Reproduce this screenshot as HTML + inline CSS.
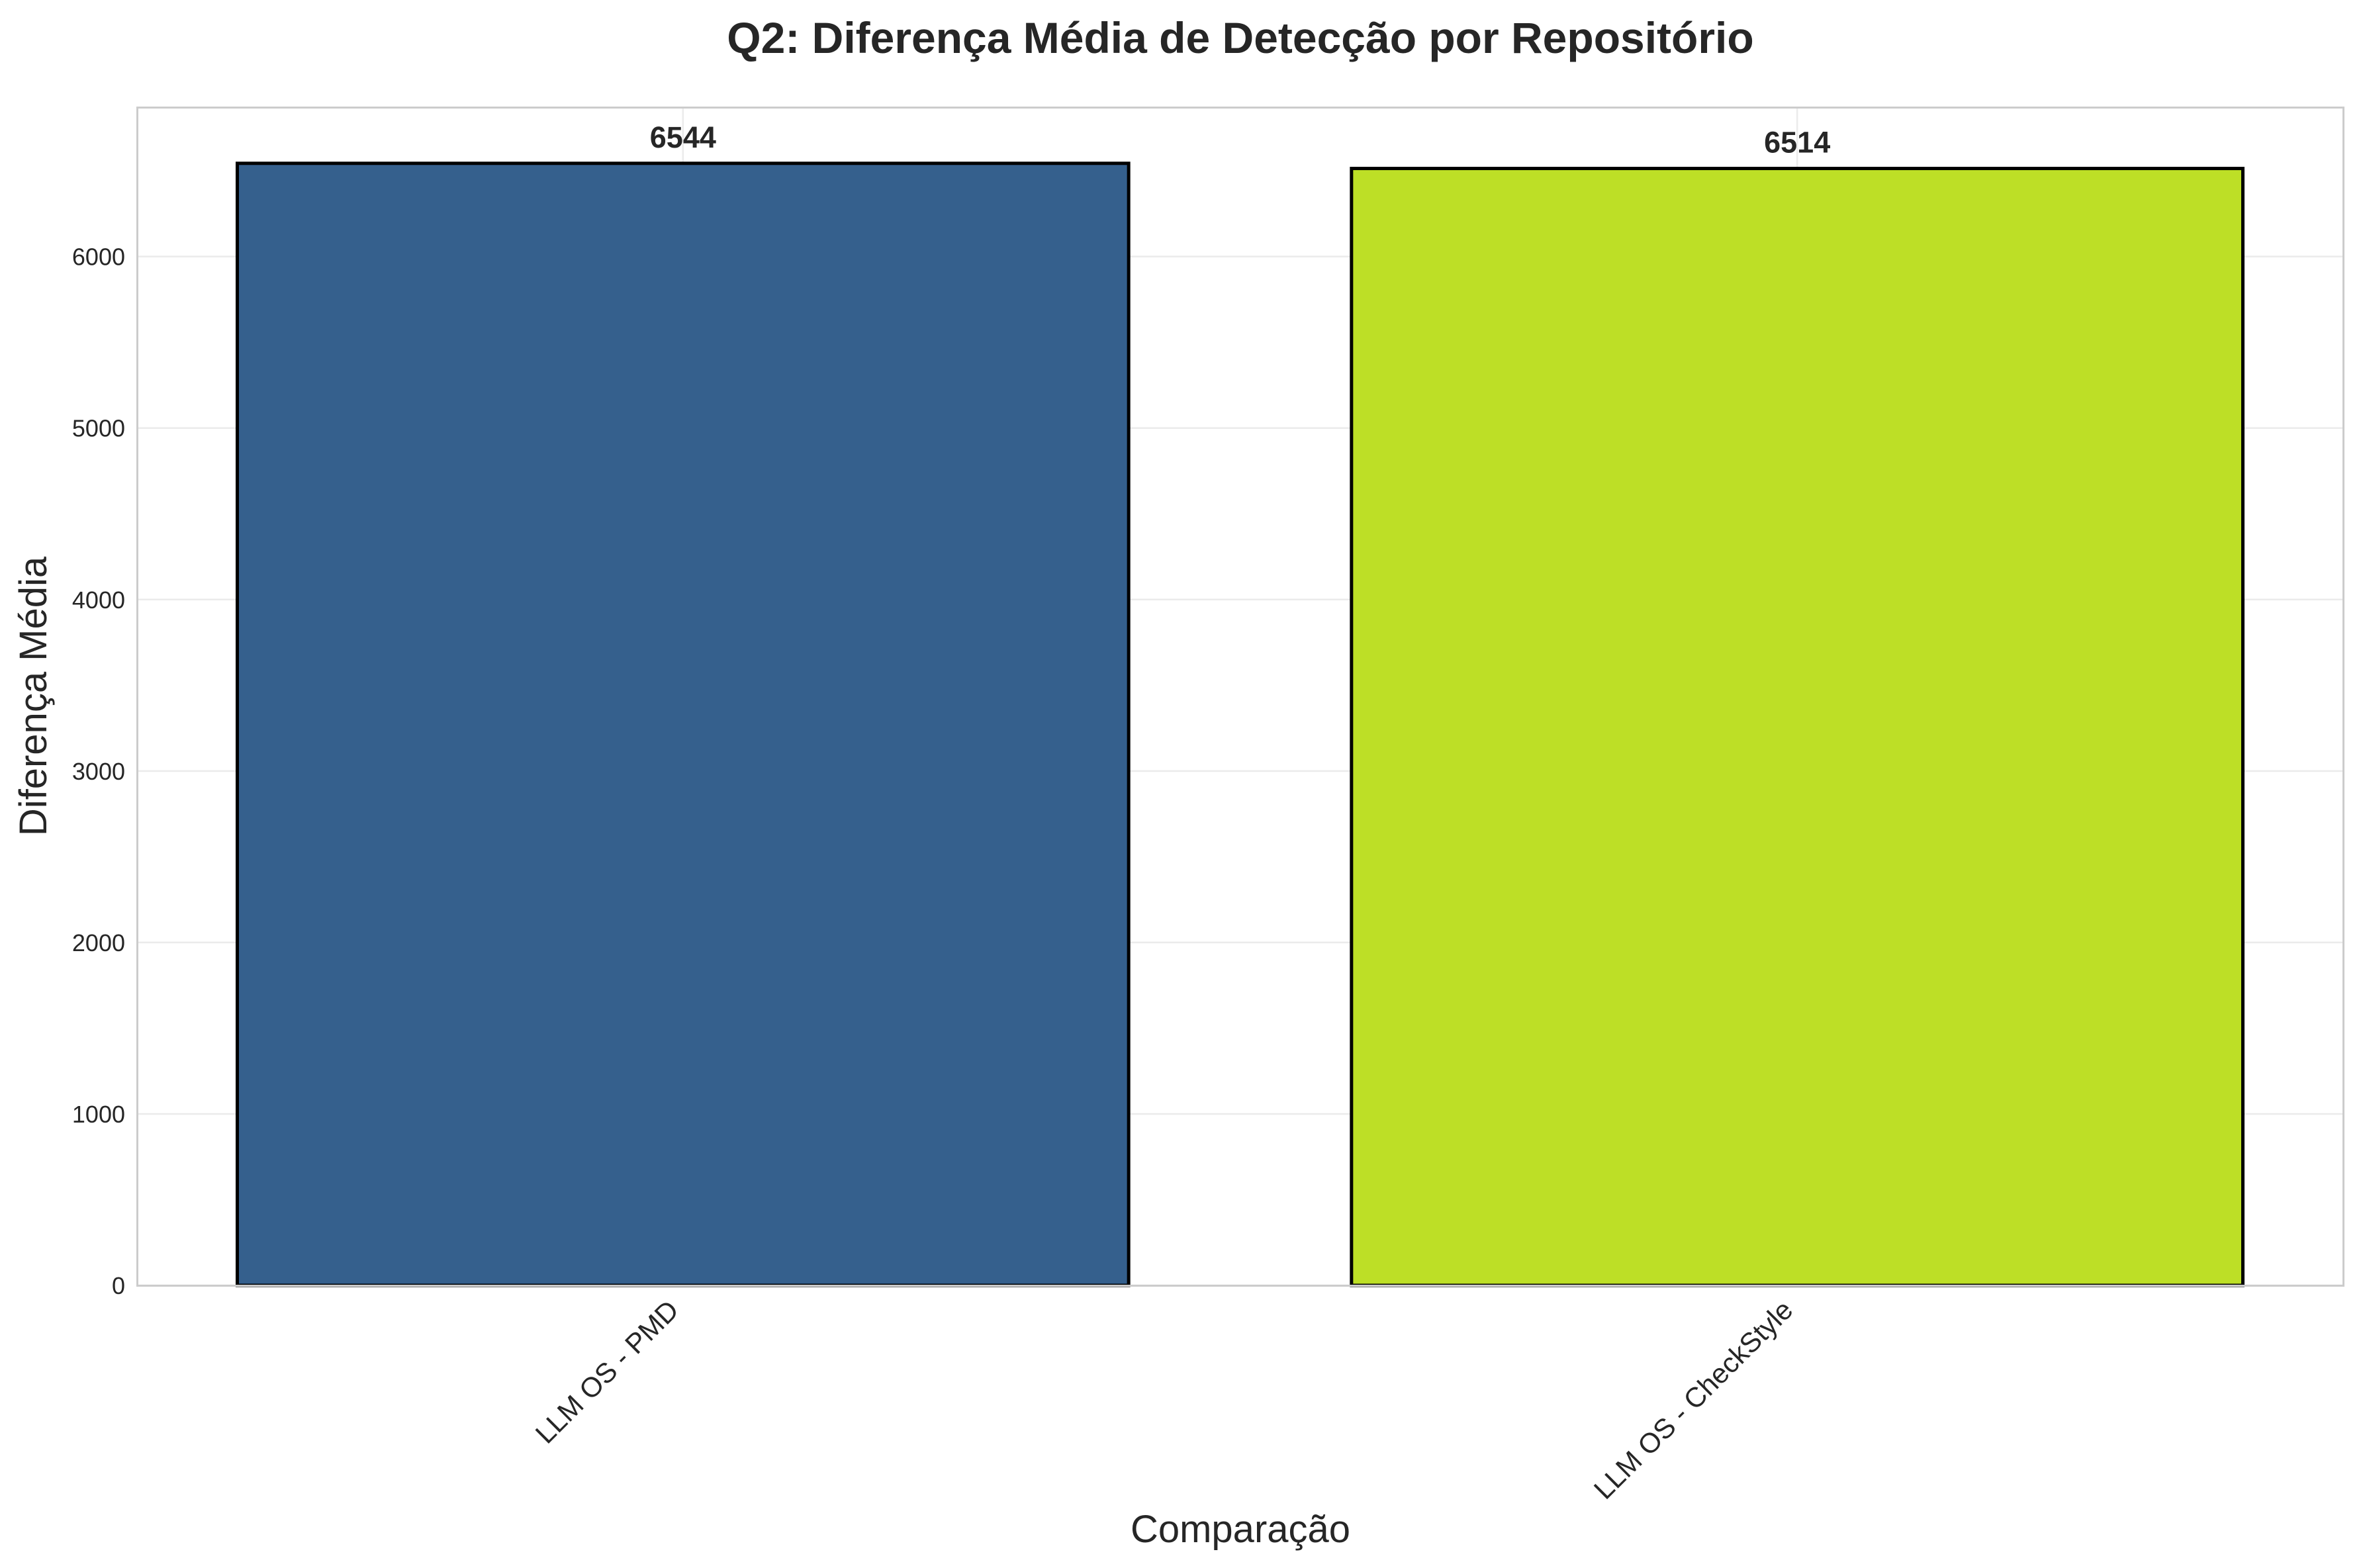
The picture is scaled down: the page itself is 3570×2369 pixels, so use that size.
<!DOCTYPE html>
<html><head><meta charset="utf-8">
<style>
html,body{margin:0;padding:0;background:#fff;}
svg{display:block;font-family:"Liberation Sans",Arial,sans-serif;}
</style></head>
<body>
<svg id="chart" width="3570" height="2369" viewBox="0 0 3570 2369" xmlns="http://www.w3.org/2000/svg">
<rect x="0" y="0" width="3570" height="2369" fill="#ffffff"/>
<text x="1874" y="80" text-anchor="middle" font-size="66" font-weight="bold" fill="#262626">Q2: Diferença Média de Detecção por Repositório</text>
<g id="grid"></g>
<g id="bars"></g>
<g id="labels"></g>
<rect x="207.5" y="162.5" width="3333" height="1780" fill="none" stroke="#cccccc" stroke-width="3"/>
<text transform="translate(70,1052) rotate(-90)" text-anchor="middle" font-size="58" fill="#262626">Diferença Média</text>
<text x="1874" y="2330" text-anchor="middle" font-size="58" fill="#262626">Comparação</text>
</svg>
<script>
const categories = ["LLM OS - PMD", "LLM OS - CheckStyle"];
const values = [6544, 6514];
const valueLabels = ["6544", "6514"];
const yTicks = [0, 1000, 2000, 3000, 4000, 5000, 6000];
const colors = ["#35608d", "#bddf26"];

const NS = "http://www.w3.org/2000/svg";
const L = 207, R = 3540, T = 162, B = 1942;
const yMax = Math.max(...values) * 1.05;
const xMin = -0.49, xMax = categories.length - 1 + 0.49;
function xs(v){ return L + (v - xMin) / (xMax - xMin) * (R - L); }
function ys(v){ return B - v / yMax * (B - T); }
function mk(tag, attrs, parent){ const e = document.createElementNS(NS, tag); for (const k in attrs) e.setAttribute(k, attrs[k]); parent.appendChild(e); return e; }
const grid = document.getElementById('grid'), bars = document.getElementById('bars'), labels = document.getElementById('labels');

yTicks.forEach(t => {
  const y = ys(t);
  const gl = mk('line', {x1: L, x2: R, y1: y, y2: y, stroke: '#ebebeb', 'stroke-width': 2.5}, grid);
  
  
  const tl = mk('text', {x: L - 18, y: y + 13, 'text-anchor': 'end', 'font-size': 36, fill: '#262626'}, labels);
  tl.textContent = t;
  
  
});
categories.forEach((c, i) => {
  const x = xs(i);
  const gl = mk('line', {x1: x, x2: x, y1: T, y2: B, stroke: '#ebebeb', 'stroke-width': 2.5}, grid);
  
  
});
categories.forEach((c, i) => {
  const w = 0.8 * (xs(1) - xs(0));
  const cx = xs(i);
  const y = ys(values[i]);
  const r = mk('rect', {x: cx - w/2, y: y, width: w, height: B - y, fill: colors[i], stroke: '#000', 'stroke-width': 5}, bars);
  
  
  const vl = mk('text', {x: cx, y: y - 24, 'text-anchor': 'middle', 'font-size': 45, 'font-weight': 'bold', fill: '#262626'}, labels);
  vl.textContent = valueLabels[i];
  
  
  const xl = mk('text', {transform: 'translate(' + (cx - 4) + ',' + (B + 40) + ') rotate(-45)', 'text-anchor': 'end', 'font-size': 42, fill: '#262626'}, labels);
  xl.textContent = c;
  
  
});
</script>
</body></html>
